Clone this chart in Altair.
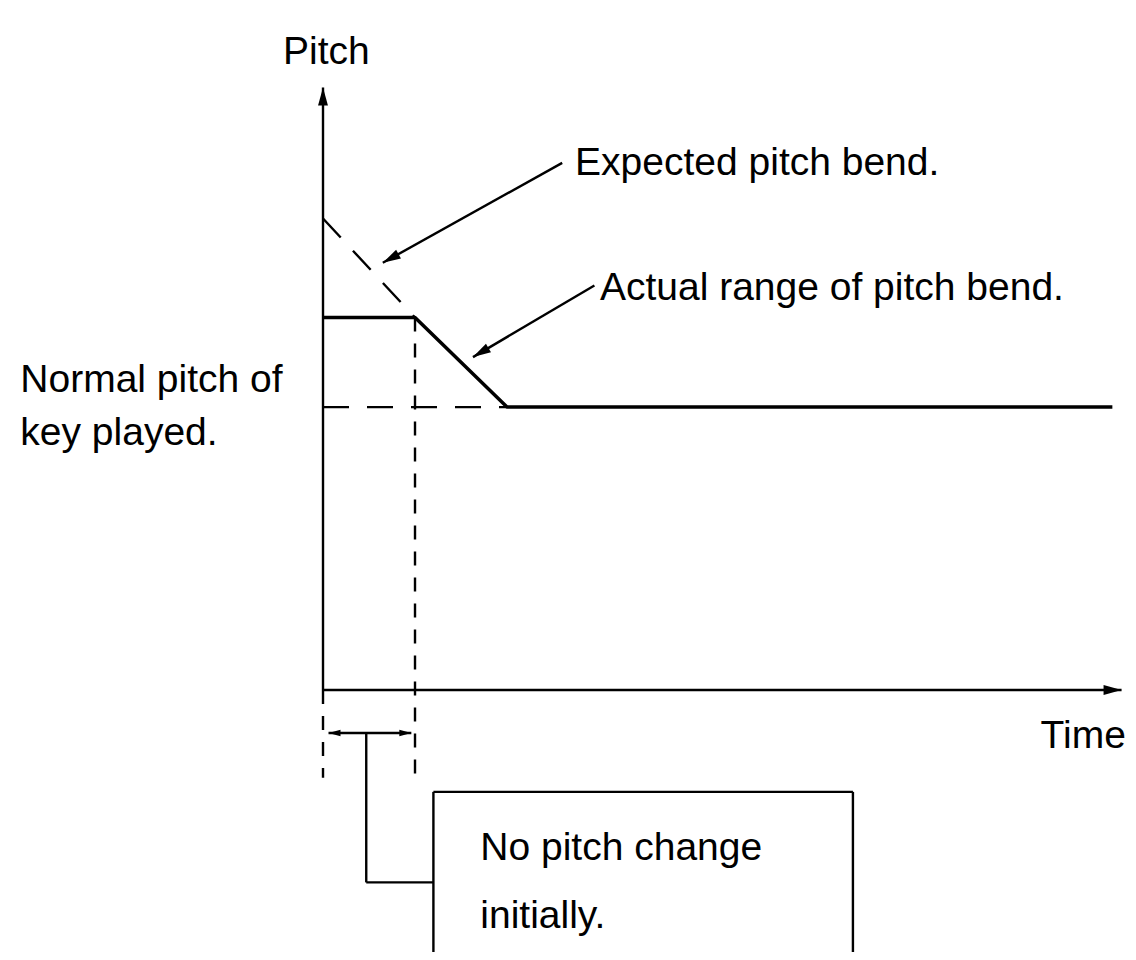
import math
import altair as alt
import pandas as pd

# ---------------- diagram values (time units / pitch units) ----------------
W, H = 1120, 944
T_DOMAIN = [-3.424, 8.75]
P_DOMAIN = [-2.778, 7.232]

# actual pitch curve (solid, thick)
actual_t = [0.0, 1.0, 2.0, 8.58]
actual_p = [3.95, 3.95, 3.0, 3.0]
# expected pitch bend (dashed)
expected_t = [0.0, 1.0]
expected_p = [5.0, 3.95]
# normal pitch of key played (dashed)
normal_t = [0.0, 2.0]
normal_p = [3.0, 3.0]
# axes
axis_t_end = 8.68
axis_p_end = 6.39
# delay guide lines (dashed verticals)
guide_t = [0.0, 1.0]
guide_top = [0.0, 3.95]
guide_bottom = -0.93
# bracket "no pitch change" span + connector + box
bracket_p = -0.456
bracket_t = [0.06, 0.96]
stem_t = 0.47
stem_bottom = -2.04
box_t = [1.2, 5.76]
box_top = -1.08
box_bottom = -3.2
# leader lines (from label -> arrow tip)
leader_from_t = [2.60, 2.95]
leader_from_p = [5.59, 4.29]
leader_to_t = [0.65, 1.63]
leader_to_p = [4.53, 3.53]
# labels
label_text = ["Pitch", "Expected pitch bend.", "Actual range of pitch bend.",
              "Normal pitch of", "key played.", "Time",
              "No pitch change", "initially."]
label_t = [-0.435, 2.74, 3.01, -3.29, -3.29, 7.80, 1.71, 1.71]
label_p = [6.64, 5.46, 4.14, 3.16, 2.60, -0.615, -1.80, -2.52]

FONT = "Liberation Sans, Arial, sans-serif"
FS = 39

# --------------------------------------------------------------------------
kx = W / (T_DOMAIN[1] - T_DOMAIN[0])
ky = H / (P_DOMAIN[1] - P_DOMAIN[0])


def heading(t0, p0, t1, p1):
    dx = (t1 - t0) * kx
    dy = -(p1 - p0) * ky
    return math.degrees(math.atan2(dx, -dy)) % 360


xs = alt.Scale(domain=T_DOMAIN, nice=False, zero=False)
ys = alt.Scale(domain=P_DOMAIN, nice=False, zero=False)


def seg_df(rows):
    return pd.DataFrame(rows, columns=["t", "p", "t2", "p2"])


def rules(df, width, dash=None):
    kw = dict(color="black", strokeWidth=width)
    if dash:
        kw["strokeDash"] = dash
    return alt.Chart(df).mark_rule(**kw).encode(
        x=alt.X("t:Q", scale=xs, axis=None),
        y=alt.Y("p:Q", scale=ys, axis=None),
        x2="t2:Q", y2="p2:Q")


# actual curve
curve_df = pd.DataFrame({"t": actual_t, "p": actual_p, "o": list(range(len(actual_t)))})
curve = alt.Chart(curve_df).mark_line(color="black", strokeWidth=3.5, strokeJoin="round").encode(
    x=alt.X("t:Q", scale=xs, axis=None), y=alt.Y("p:Q", scale=ys, axis=None), order="o:Q")

# dashed expected + normal
dash_long = rules(seg_df([
    [expected_t[0], expected_p[0], expected_t[1], expected_p[1]],
    [normal_t[0], normal_p[0], normal_t[1], normal_p[1]],
]), 2.4, [26, 18])

dash_vert = rules(seg_df([
    [guide_t[0], guide_top[0], guide_t[0], guide_bottom],
    [guide_t[1], guide_top[1], guide_t[1], guide_bottom],
]), 2.4, [14, 12])

solid = rules(seg_df([
    [0.0, 0.0, 0.0, axis_p_end],
    [0.0, 0.0, axis_t_end, 0.0],
    [bracket_t[0], bracket_p, bracket_t[1], bracket_p],
    [stem_t, bracket_p, stem_t, stem_bottom],
    [stem_t, stem_bottom, box_t[0], stem_bottom],
    [box_t[0], box_top, box_t[1], box_top],
    [box_t[0], box_top, box_t[0], box_bottom],
    [box_t[1], box_top, box_t[1], box_bottom],
    [leader_from_t[0], leader_from_p[0], leader_to_t[0], leader_to_p[0]],
    [leader_from_t[1], leader_from_p[1], leader_to_t[1], leader_to_p[1]],
]), 2.4)

ARROW = "M0,0L0.55,2L-0.55,2Z"
heads_df = pd.DataFrame({
    "t": [0.0, axis_t_end, leader_to_t[0], leader_to_t[1]],
    "p": [axis_p_end, 0.0, leader_to_p[0], leader_to_p[1]],
    "angle": [0.0, 90.0,
              heading(leader_from_t[0], leader_from_p[0], leader_to_t[0], leader_to_p[0]),
              heading(leader_from_t[1], leader_from_p[1], leader_to_t[1], leader_to_p[1])],
})
heads = alt.Chart(heads_df).mark_point(shape=ARROW, filled=True, color="black",
                                       opacity=1, size=324, strokeWidth=0).encode(
    x=alt.X("t:Q", scale=xs, axis=None), y=alt.Y("p:Q", scale=ys, axis=None),
    angle=alt.Angle("angle:Q", scale=None))

small_df = pd.DataFrame({"t": bracket_t, "p": [bracket_p, bracket_p], "angle": [270.0, 90.0]})
small_heads = alt.Chart(small_df).mark_point(shape=ARROW, filled=True, color="black",
                                             opacity=1, size=144, strokeWidth=0).encode(
    x=alt.X("t:Q", scale=xs, axis=None), y=alt.Y("p:Q", scale=ys, axis=None),
    angle=alt.Angle("angle:Q", scale=None))

labels_df = pd.DataFrame({"t": label_t, "p": label_p, "text": label_text})
labels = alt.Chart(labels_df).mark_text(align="left", baseline="alphabetic", font=FONT,
                                        fontSize=FS, color="black").encode(
    x=alt.X("t:Q", scale=xs, axis=None), y=alt.Y("p:Q", scale=ys, axis=None), text="text:N")

chart = alt.layer(dash_long, dash_vert, solid, curve, heads, small_heads, labels).properties(
    width=W, height=H, padding=0, background="white",
    autosize=alt.AutoSizeParams(type="none"),
).configure_view(stroke=None)

chart.save("out.html", embed_options={"renderer": "svg", "actions": False})
